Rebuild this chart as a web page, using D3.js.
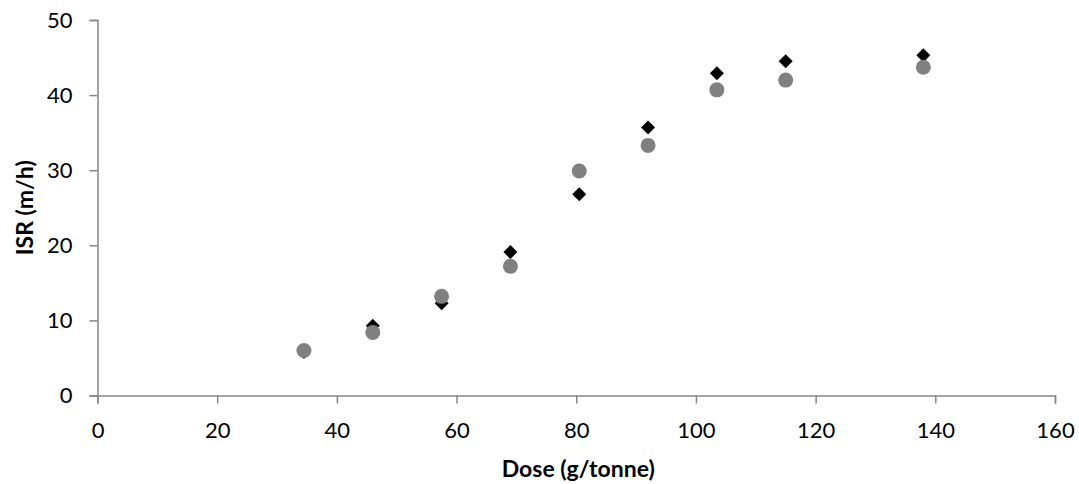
<!DOCTYPE html>
<html>
<head>
<meta charset="UTF-8">
<style>
  body{margin:0;background:#fff}
  svg{display:block;font-family:Lato,'Open Sans',sans-serif}
  .axis path,.axis line{stroke:#868686;stroke-width:1.5}
  .axis text{fill:#000;font-size:22px;font-family:Lato,sans-serif}
  .ttl{font-weight:700;font-size:23px;fill:#000}
</style>
</head>
<body>
<div id="chart"></div>
<script src="https://d3js.org/d3.v7.min.js"></script>
<script>
// dosis (g/tonne)
const dose = [34.5, 46, 57.5, 69, 80.5, 92, 103.5, 115, 138];
// serie rombos negros
const isrDiamond = [5.8, 9.3, 12.3, 19.1, 26.8, 35.7, 42.9, 44.5, 45.3];
// serie círculos grises
const isrCircle  = [6.0, 8.4, 13.2, 17.2, 29.9, 33.3, 40.7, 42.0, 43.7];
const xTicks = [0,20,40,60,80,100,120,140,160];
const yTicks = [0,10,20,30,40,50];

const W=1079, H=484;
const margin={top:20,right:24,bottom:88.5,left:97.5},
      width=W-margin.left-margin.right,
      height=H-margin.top-margin.bottom;

const svg=d3.select("#chart").append("svg").attr("width",W).attr("height",H)
  .append("g").attr("transform",`translate(${margin.left},${margin.top})`);

const x=d3.scaleLinear().domain([0,160]).range([0,width]),
      y=d3.scaleLinear().domain([0,50]).range([height,0]);

svg.append("g").attr("class","axis")
   .attr("transform",`translate(0,${height})`)
   .call(d3.axisBottom(x).tickValues(xTicks).tickSize(8).tickSizeOuter(8).tickPadding(19));
svg.append("g").attr("class","axis")
   .call(d3.axisLeft(y).tickValues(yTicks).tickSize(8).tickSizeOuter(8).tickPadding(17));

/* rombos primero, círculos encima */
const sym=d3.symbol().type(d3.symbolSquare).size(98);
svg.append("g").selectAll("path").data(dose).join("path")
   .attr("d",sym)
   .attr("transform",(d,i)=>`translate(${x(d)},${y(isrDiamond[i])}) rotate(45)`)
   .attr("fill","#000");

svg.append("g").selectAll("circle").data(dose).join("circle")
   .attr("cx",d=>x(d)).attr("cy",(d,i)=>y(isrCircle[i]))
   .attr("r",7.5).attr("fill","#808080");

svg.append("text").attr("class","ttl")
   .attr("x",width/2+2).attr("y",height+81)
   .attr("text-anchor","middle").text("Dose (g/tonne)");
svg.append("text").attr("class","ttl")
   .attr("transform",`translate(${33-margin.left},${height/2}) rotate(-90)`)
   .attr("text-anchor","middle").text("ISR (m/h)");
</script>
</body>
</html>
